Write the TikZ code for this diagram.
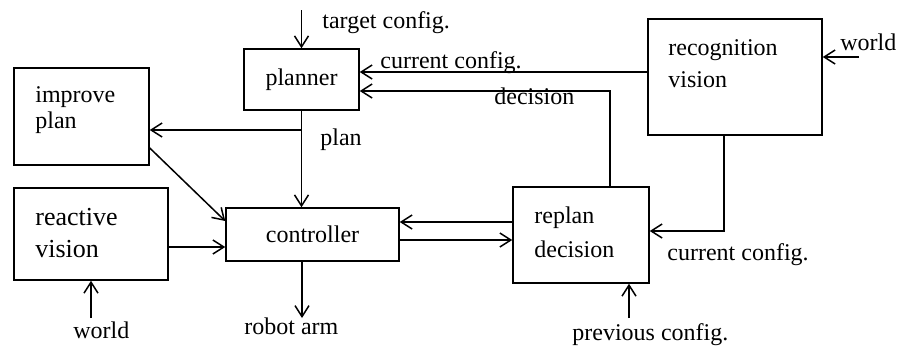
\documentclass[tikz,border=0pt]{standalone}
\usepackage{fontspec}
\setmainfont{Liberation Serif}
\usetikzlibrary{arrows.meta, positioning, calc}

\begin{document}
\begin{tikzpicture}[x=0.5pt, y=-0.5pt,
    blk/.style={draw,rectangle,inner sep=0pt,line width=0.75pt,font=\fontsize{12}{14}\selectfont},
    txt/.style={inner sep=0pt,anchor=base west,align=left,font=\fontsize{12}{16}\selectfont},
    lbl/.style={inner sep=0pt,anchor=base west,font=\fontsize{12}{14}\selectfont},
    flow/.style={line width=0.75pt,-{Straight Barb[length=5.5pt,width=7pt]}}]
    \useasboundingbox (0,0) rectangle (898,345);
    \node (planner) [blk,minimum width=57.5pt,minimum height=30.5pt] at (301.5,79.5) {planner};
    \node (improve) [blk,minimum width=67.5pt,minimum height=48.5pt] at (81.5,116.5) {};
    \node (reactive) [blk,minimum width=77pt,minimum height=46pt] at (91,234) {};
    \node (controller) [blk,minimum width=86.5pt,minimum height=26.5pt] at (312.5,234.5) {controller};
    \node (replan) [blk,minimum width=68pt,minimum height=48pt] at (581,235) {};
    \node (recog) [blk,minimum width=87pt,minimum height=58pt] at (735,77) {};
    \node (improve-txt) [txt,font=\fontsize{12}{13}\selectfont] at (35,128) {improve\\plan};
    \node (reactive-txt) [txt,font=\fontsize{13}{16}\selectfont] at (35,257) {reactive\\vision};
    \node (replan-txt) [txt,font=\fontsize{12}{17}\selectfont] at (534,257) {replan\\decision};
    \node (recog-txt) [txt] at (668,87) {recognition\\vision};
    \coordinate (tgt) at (301.5,10);
    \coordinate (cur) at (500,72);
    \coordinate (dec) at (610,91);
    \coordinate (pb) at (301.5,130);
    \coordinate (arm) at (302,318);
    \coordinate (wl) at (91,318);
    \coordinate (wr) at (859,57);
    \coordinate (rc) at (724,231);
    \coordinate (prev) at (629,318);
    \coordinate (fb) at (0,222);
    \coordinate (cmd) at (0,240);
    \coordinate (rv) at (0,247);
    \node (tgt-lbl) [lbl] at (322,28) {target config.};
    \node (cur-lbl) [lbl] at (380,68) {current config.};
    \node (dec-lbl) [lbl] at (494,104) {decision};
    \node (plan-lbl) [lbl] at (320,145) {plan};
    \node (arm-lbl) [lbl] at (244,334) {robot arm};
    \node (wl-lbl) [lbl] at (73,338) {world};
    \node (wr-lbl) [lbl] at (840,50) {world};
    \node (rc-lbl) [lbl] at (667,260) {current config.};
    \node (prev-lbl) [lbl] at (572,340) {previous config.};
    \draw[flow] (tgt) -- (planner.north);
    \draw[flow] (recog.west |- cur) -- (planner.east |- cur);
    \draw[flow] (dec |- replan.north) -- (dec) -- (planner.east |- dec);
    \draw[flow] (planner.south) -- (planner.south |- controller.north);
    \draw[flow] (pb) -- (improve.east |- pb);
    \draw[flow] ($(improve.east)+(0,31.5)$) -- ($(controller.west)+(0,-13.5)$);
    \draw[flow] (reactive.east |- rv) -- (controller.west |- rv);
    \draw[flow] (arm |- controller.south) -- (arm);
    \draw[flow] (wl) -- (wl |- reactive.south);
    \draw[flow] (replan.west |- fb) -- (controller.east |- fb);
    \draw[flow] (controller.east |- cmd) -- (replan.west |- cmd);
    \draw[flow] (rc |- recog.south) -- (rc) -- (replan.east |- rc);
    \draw[flow] (prev) -- (prev |- replan.south);
    \draw[flow] (wr) -- (recog.east |- wr);
\end{tikzpicture}
\end{document}
